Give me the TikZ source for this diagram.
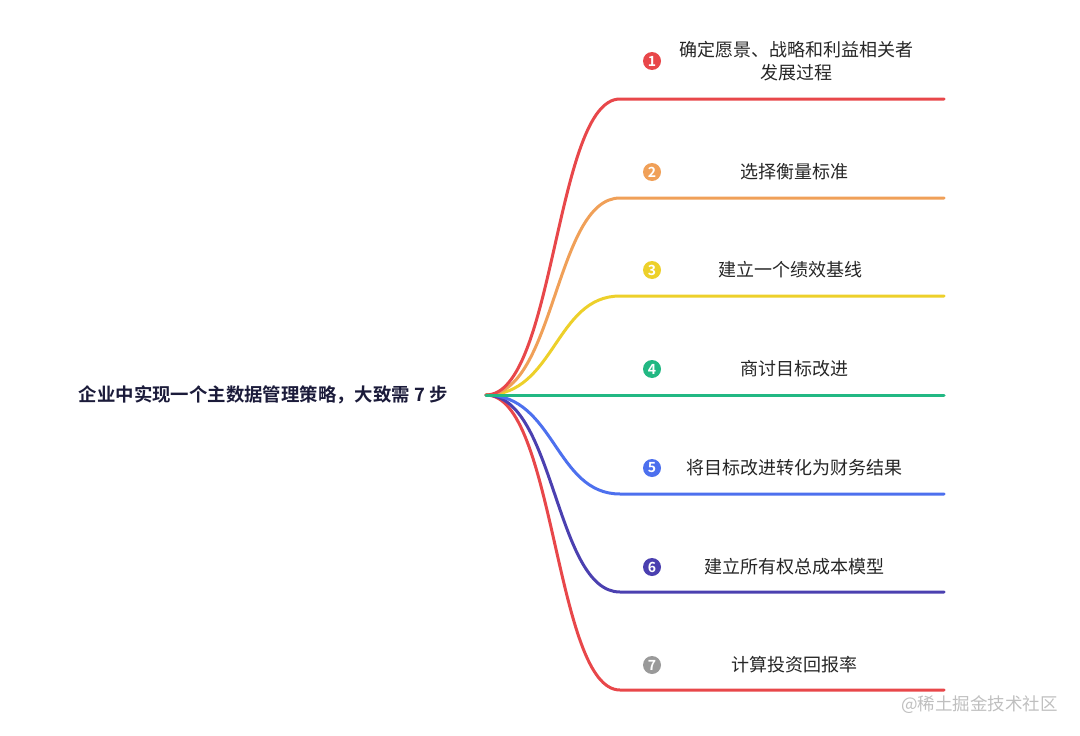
\documentclass[tikz,border=0pt]{standalone}
\usepackage{fontspec}
\newfontfamily\cjk{Noto Sans CJK SC}
\newfontfamily\cjkb{Noto Sans CJK SC Bold}
\definecolor{cA}{HTML}{E8474A}
\definecolor{cB}{HTML}{F0A058}
\definecolor{cC}{HTML}{EDD02A}
\definecolor{cD}{HTML}{22B883}
\definecolor{cE}{HTML}{4D70EE}
\definecolor{cF}{HTML}{4B40B0}
\definecolor{cG}{HTML}{E8474A}
\definecolor{cGr}{HTML}{9A9A9A}
\definecolor{rootc}{HTML}{1B1B3A}
\tikzset{
  branch/.style={line width=3pt, line cap=round},
  lbl/.style={font=\cjk\fontsize{18}{23}\selectfont, text=black!85, align=center, inner sep=0pt},
  num/.style={circle, fill=#1, inner sep=0pt, minimum size=18pt, text=white, font=\cjkb\fontsize{14}{14}\selectfont}
}
\begin{document}
\begin{tikzpicture}[x=1pt,y=-1pt]
\useasboundingbox (0,0) rectangle (1080,736);
\node[inner sep=0pt, anchor=east, text=rootc, font=\cjkb\fontsize{18.4}{22}\selectfont] (root) at (448,395) {企业中实现一个主数据管理策略，大致需 7 步};
\coordinate (o) at (486,395);
% branch ends
\coordinate (k1) at (620,99);  \coordinate (e1) at (944,99);
\coordinate (k2) at (620,198); \coordinate (e2) at (944,198);
\coordinate (k3) at (620,296); \coordinate (e3) at (944,296);
\coordinate (e4) at (944,395);
\coordinate (k5) at (620,494); \coordinate (e5) at (944,494);
\coordinate (k6) at (620,592); \coordinate (e6) at (944,592);
\coordinate (k7) at (620,690); \coordinate (e7) at (944,690);
\draw[branch, cG] (o) .. controls (555,395) and (555,690) .. (k7) -- (e7);
\draw[branch, cF] (o) .. controls (555,395) and (555,592) .. (k6) -- (e6);
\draw[branch, cE] (o) .. controls (555,395) and (555,494) .. (k5) -- (e5);
\draw[branch, cC] (o) .. controls (555,395) and (555,296) .. (k3) -- (e3);
\draw[branch, cB] (o) .. controls (555,395) and (555,198) .. (k2) -- (e2);
\draw[branch, cA] (o) .. controls (555,395) and (555,99) .. (k1) -- (e1);
\draw[branch, cD] (o) -- (e4);
% markers
\node[num=cA] (n1) at (652,61) {1};
\node[num=cB] (n2) at (652,172) {2};
\node[num=cC] (n3) at (652,270) {3};
\node[num=cD] (n4) at (652,369) {4};
\node[num=cE] (n5) at (652,468) {5};
\node[num=cF] (n6) at (652,567) {6};
\node[num=cGr] (n7) at (652,665) {7};
% labels
\node[lbl] (l1) at (796,61) {确定愿景、战略和利益相关者\\发展过程};
\node[lbl] (l2) at (794,172) {选择衡量标准};
\node[lbl] (l3) at (790,270) {建立一个绩效基线};
\node[lbl] (l4) at (794,369) {商讨目标改进};
\node[lbl] (l5) at (794,468) {将目标改进转化为财务结果};
\node[lbl] (l6) at (794,567) {建立所有权总成本模型};
\node[lbl] (l7) at (794,665) {计算投资回报率};
\node[font=\cjk\fontsize{17.5}{19}\selectfont, text=black!25, anchor=east, inner sep=0pt] (wm) at (1058,705) {@稀土掘金技术社区};
\end{tikzpicture}
\end{document}
